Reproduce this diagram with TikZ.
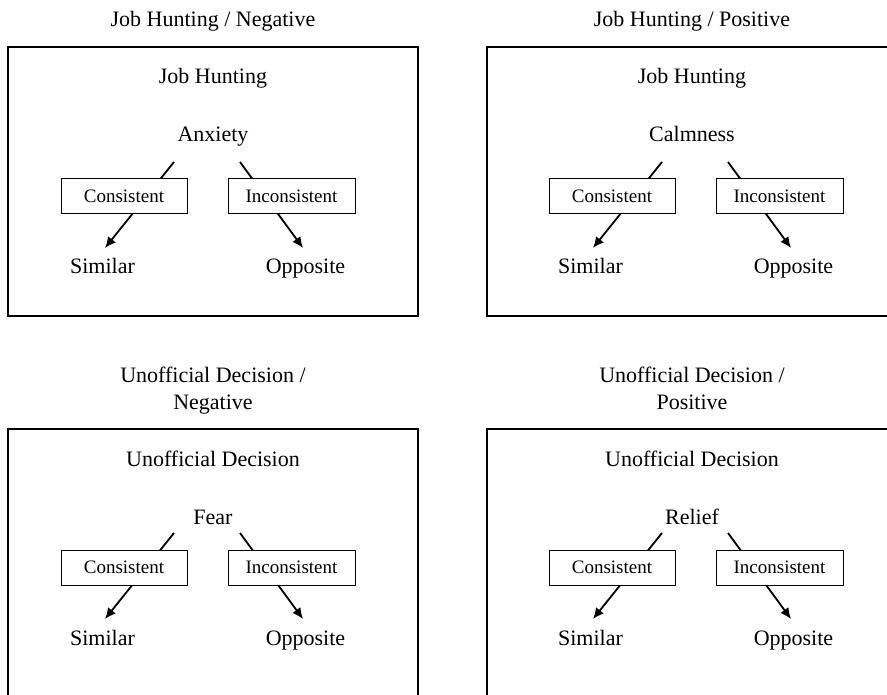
\documentclass[tikz,border=0pt]{standalone}
\usepackage{fontspec}
\setmainfont{Liberation Serif}
\usepackage{tikz}
\usetikzlibrary{arrows.meta}
\usetikzlibrary{positioning}

% one panel: #1 name, #2 frame corner, #3 shift of the arrows, #4 title, #5 heading, #6 emotion
\newcommand{\emopanel}[6]{%
  \begin{scope}[shift={#2}]
    \draw [panel] (0,0) rectangle (410,269);
    \node [txt, anchor=base] (#1-title) at (205,-20) {#4};
    \node [txt, anchor=base] (#1-head) at (205,37) {#5};
    \node [txt, anchor=base] (#1-emo) at (205,95) {#6};
    \begin{scope}[shift={#3}]
      \coordinate (#1-cs) at (166,115);
      \coordinate (#1-ce) at (97,201);
      \coordinate (#1-is) at (232,115);
      \coordinate (#1-ie) at (295,201);
      \draw [conn] (#1-cs) -- (#1-ce);
      \draw [conn] (#1-is) -- (#1-ie);
      \node [choice, minimum width=126pt] (#1-con) at (116,149.5) {Consistent};
      \node [choice, minimum width=127pt] (#1-inc) at (283.5,149.5) {Inconsistent};
      \node [txt, anchor=base] (#1-sim) at (94.5,227) {Similar};
      \node [txt, anchor=base] (#1-opp) at (297.5,227) {Opposite};
    \end{scope}
  \end{scope}}

\begin{document}
\begin{tikzpicture}[x=1pt, y=-1pt,
    txt/.style={inner sep=0pt, align=center, font=\fontsize{22}{26.4}\selectfont},
    choice/.style={draw, line width=1pt, fill=white, inner sep=0pt,
      minimum height=35pt, font=\fontsize{19}{22}\selectfont},
    panel/.style={line width=1.3pt},
    conn/.style={line width=1.8pt, -{Latex[length=11pt,width=10pt]}}]
  \useasboundingbox (0,0) rectangle (887,695);

  \emopanel{jn}{(8,47)}{(0,0)}{Job Hunting / Negative}{Job Hunting}{Anxiety}
  \emopanel{jp}{(487,47)}{(9,0)}{Job Hunting / Positive}{Job Hunting}{Calmness}
  \emopanel{un}{(8,429)}{(0,-11)}{Unofficial Decision /\\ Negative}{Unofficial Decision}{Fear}
  \emopanel{up}{(487,429)}{(9,-11)}{Unofficial Decision /\\ Positive}{Unofficial Decision}{Relief}
\end{tikzpicture}
\end{document}
